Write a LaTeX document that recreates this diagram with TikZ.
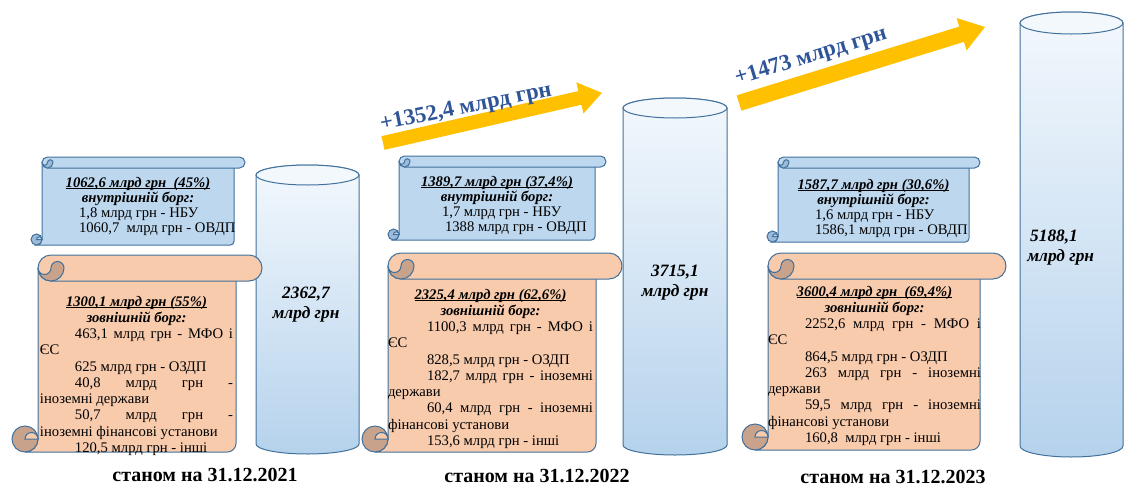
\documentclass[tikz,border=0pt]{standalone}
\usepackage{fontspec}
\setmainfont{Liberation Serif}
\definecolor{ol}{HTML}{41719C}
\definecolor{bluefill}{HTML}{BDD7EE}
\definecolor{bluedark}{HTML}{9DBBD9}
\definecolor{pinkfill}{HTML}{F8CBAD}
\definecolor{pinkdark}{HTML}{C9A28C}
\definecolor{arrowyellow}{HTML}{FFC000}
\definecolor{labelblue}{HTML}{2F5597}
\definecolor{cyltop}{HTML}{F3F8FD}
\definecolor{cylbot}{HTML}{B5D2EC}
\newlength{\pxu}\setlength{\pxu}{0.75pt}
\newlength{\indw}
\newcommand{\lnC}[1]{\makebox[\linewidth][c]{#1}\par}
\newcommand{\lnS}[1]{\makebox[\linewidth][s]{#1}\par}
\newcommand{\lnL}[1]{\makebox[\linewidth][l]{#1}\par}
\newcommand{\myind}{\hspace*{\indw}}
\newcommand{\bfit}[1]{\textbf{\textit{#1}}}
\newsavebox{\ulbox}
\newcommand{\myul}[1]{\sbox{\ulbox}{#1}\rlap{\rule[-1.6pt]{\wd\ulbox}{0.55pt}}\usebox{\ulbox}}
\tikzset{
  scrollline/.style={draw=ol, line width=0.75pt},
  cylline/.style={draw=ol, line width=0.75pt},
  txt/.style={anchor=base west, inner sep=0pt, outer sep=0pt},
  pinktxt/.style={txt, font=\fontsize{11}{12.2}\selectfont},
  bluetxt/.style={txt, font=\fontsize{11}{11.3}\selectfont},
  cyltxt/.style={inner sep=0pt, align=center, font=\fontsize{13}{15}\selectfont\bfseries\itshape},
  arrowlabel/.style={inner sep=0pt, text=labelblue, font=\fontsize{17}{20}\selectfont\bfseries},
  datelabel/.style={inner sep=0pt, font=\fontsize{15}{18}\selectfont\bfseries},
  arrowbody/.style={fill=arrowyellow}
}
\newcommand{\scrollshape}[7]{%
  \pgfmathsetmacro\scXb{#1+#5}%
  \pgfmathsetmacro\scXr{#2-#5}%
  \pgfmathsetmacro\scH{#5/2}%
  \pgfmathsetmacro\scQ{#5/4}%
  \pgfmathsetmacro\scRc{#5/3}%
  \filldraw[scrollline, fill=#6] (\scXb,#3+\scH) -- (\scXb,#4-\scH) arc[start angle=0,end angle=90,radius=\scH] -- (\scXr-\scRc,#4) arc[start angle=90,end angle=0,radius=\scRc] -- (\scXr,#3+\scH) -- cycle;
  \filldraw[scrollline, fill=#6] (\scXb+\scH,#3) -- (#2-\scH,#3) arc[start angle=-90,end angle=90,radius=\scH] -- (\scXb+\scH,#3+#5) arc[start angle=90,end angle=270,radius=\scH] -- cycle;
  \filldraw[scrollline, fill=#7] (\scXb,#3+\scH) arc[start angle=180,end angle=0,radius=\scH] arc[start angle=0,end angle=-180,radius=\scQ] arc[start angle=0,end angle=180,radius=\scQ] -- cycle;
  \filldraw[scrollline, fill=#7] (#1+\scH,#4-\scH) circle[radius=\scH];
  \filldraw[scrollline, fill=#6] (\scXb,#4-\scH) arc[start angle=0,end angle=-180,radius=\scQ] -- cycle;
}
\newcommand{\cylinder}[5]{%
  \shadedraw[cylline, top color=cyltop, bottom color=cylbot] (#1-#2,#3) -- (#1-#2,#4) arc[start angle=180,end angle=0,x radius=#2,y radius=#5] -- (#1+#2,#3) arc[start angle=0,end angle=-180,x radius=#2,y radius=#5] -- cycle;
  \filldraw[cylline, fill=cyltop] (#1,#3) ellipse[x radius=#2,y radius=#5];
}
\begin{document}
\begin{tikzpicture}[x=0.75pt,y=-0.75pt]
\useasboundingbox (0,0) rectangle (1125,486);

% cylinders
\cylinder{307.5}{51.5}{175}{444}{10}
\cylinder{675}{52}{108}{445}{10}
\cylinder{1071.5}{51.5}{23}{446}{11}
\node[cyltxt] (c1) at (306,305) {2362,7\\млрд грн};
\node[cyltxt] (c2) at (675,283) {3715,1\\млрд грн};
\node[cyltxt, align=left, anchor=west] (c3) at (1027,248) {\,5188,1\\млрд грн};

% arrows
\begin{scope}[shift={(383,143)}, rotate=12.9]
  \fill[arrowbody] (0,-7) -- (202,-7) -- (202,-16) -- (224.6,0) -- (202,16) -- (202,7) -- (0,7) -- cycle;
\end{scope}
\begin{scope}[shift={(739,103)}, rotate=17.17]
  \fill[arrowbody] (0,-8) -- (233,-8) -- (233,-17) -- (257.5,0) -- (233,17) -- (233,8) -- (0,8) -- cycle;
\end{scope}
\node[arrowlabel, rotate=11.5] (g1) at (466,108) {+1352,4 млрд грн};
\node[arrowlabel, rotate=17] (g2) at (811,57) {+1473 млрд грн};

% scrolls
\scrollshape{31}{245}{157}{245}{11}{bluefill}{bluedark}
\scrollshape{12}{262}{255}{452}{26}{pinkfill}{pinkdark}
\scrollshape{388}{606}{156}{240}{11}{bluefill}{bluedark}
\scrollshape{362}{622}{253}{452}{26}{pinkfill}{pinkdark}
\scrollshape{767}{980}{157}{242}{11}{bluefill}{bluedark}
\scrollshape{742}{1006}{253}{450}{26}{pinkfill}{pinkdark}

% scroll texts
\node[bluetxt] (b1) at (42,187) {\parbox[t]{192\pxu}{%
\lnC{\myul{\bfit{1062,6 млрд грн\ \ (45\%)}}}
\lnC{\bfit{внутрішній борг:}}
\lnL{\hspace*{37\pxu}1,8 млрд грн - НБУ}
\lnL{\hspace*{37\pxu}1060,7\ \ млрд грн - ОВДП}}};
\node[bluetxt] (b2) at (399,186) {\parbox[t]{196\pxu}{%
\lnC{\myul{\bfit{1389,7 млрд грн (37,4\%)}}}
\lnC{\bfit{внутрішній борг:}}
\lnL{\hspace*{43\pxu}1,7 млрд грн - НБУ}
\lnL{\hspace*{46\pxu}1388 млрд грн - ОВДП}}};
\node[bluetxt] (b3) at (778,189) {\parbox[t]{191\pxu}{%
\lnC{\myul{\bfit{1587,7 млрд грн (30,6\%)}}}
\lnC{\bfit{внутрішній борг:}}
\lnL{\hspace*{37\pxu}1,6 млрд грн - НБУ}
\lnL{\hspace*{37\pxu}1586,1 млрд грн - ОВДП}}};

\node[pinktxt] (p1) at (40,306) {\parbox[t]{193\pxu}{\setlength{\indw}{35\pxu}%
\lnC{\myul{\bfit{1300,1 млрд грн (55\%)}}}
\lnC{\bfit{зовнішній борг:}}
\lnS{\myind 463,1 млрд грн - МФО і}
\lnL{ЄС}
\lnL{\myind 625 млрд грн - ОЗДП}
\lnS{\myind 40,8 млрд грн -}
\lnL{іноземні держави}
\lnS{\myind 50,7 млрд грн -}
\lnL{іноземні фінансові установи}
\lnL{\myind 120,5 млрд грн - інші}}};
\node[pinktxt] (p2) at (388,299) {\parbox[t]{205\pxu}{\setlength{\indw}{39\pxu}%
\lnC{\myul{\bfit{2325,4 млрд грн (62,6\%)}}}
\lnC{\bfit{зовнішній борг:}}
\lnS{\myind 1100,3 млрд грн - МФО і}
\lnL{ЄС}
\lnL{\myind 828,5 млрд грн - ОЗДП}
\lnS{\myind 182,7 млрд грн - іноземні}
\lnL{держави}
\lnS{\myind 60,4 млрд грн - іноземні}
\lnL{фінансові установи}
\lnL{\myind 153,6 млрд грн - інші}}};
\node[pinktxt] (p3) at (768,296) {\parbox[t]{213\pxu}{\setlength{\indw}{37\pxu}%
\lnC{\myul{\bfit{3600,4 млрд грн\ \ (69,4\%)}}}
\lnC{\bfit{зовнішній борг:}}
\lnS{\myind 2252,6 млрд грн - МФО і}
\lnL{ЄС}
\lnL{\myind 864,5 млрд грн - ОЗДП}
\lnS{\myind 263 млрд грн - іноземні}
\lnL{держави}
\lnS{\myind 59,5 млрд грн - іноземні}
\lnL{фінансові установи}
\lnL{\myind 160,8\ \ млрд грн - інші}}};

% date labels
\node[datelabel] (d1) at (205,475) {станом на 31.12.2021};
\node[datelabel] (d2) at (537,476) {станом на 31.12.2022};
\node[datelabel] (d3) at (893,477) {станом на 31.12.2023};
\end{tikzpicture}
\end{document}
